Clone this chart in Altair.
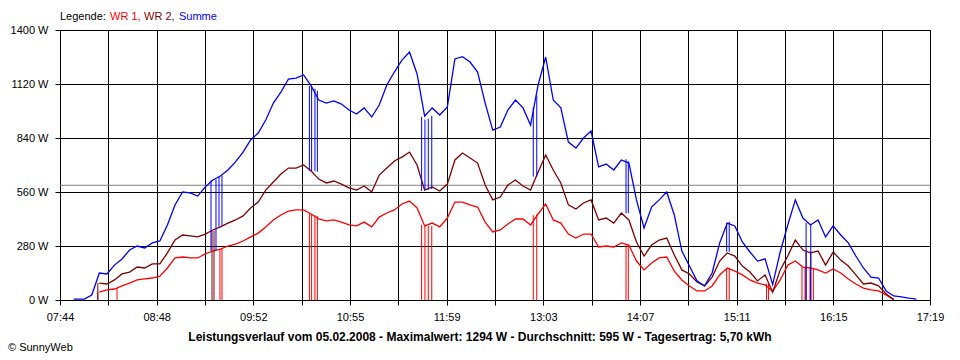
import altair as alt
import pandas as pd

# ---------------- data ----------------
times = ["07:53", "07:55", "08:00", "08:05"] + [
    f"{h:02d}:{m:02d}" for h in range(8, 18) for m in range(0, 60, 5)
    if (h * 60 + m) >= 8 * 60 + 10 and (h * 60 + m) <= 17 * 60 + 10
]

summe = [5, 5, 5, 26,
         140, 135, 181, 213, 259, 280, 270, 296, 306, 389,
         493, 560, 555, 539, 586, 622, 643, 674, 716, 767, 830, 866,
         933, 1021, 1078, 1146, 1151, 1167, 1110, 1037, 1021, 1032, 1016, 985,
         964, 996, 949, 1011, 1115, 1182, 1244, 1286, 1172, 954, 996, 959,
         1001, 1250, 1262, 1234, 1182, 1021, 881, 897, 985, 1037, 996, 907,
         1115, 1260, 1037, 996, 819, 788, 840, 876, 690, 705, 674, 726,
         710, 519, 373, 482, 519, 560, 441, 254, 176, 99, 73, 140,
         296, 399, 384, 301, 249, 202, 213, 80, 249, 389, 519, 425,
         389, 415, 327, 384, 337, 296, 228, 166, 119, 114, 47, 21,
         16, 10, 5]

wr2 = [None, None, None, None,
       88, 83, 104, 135, 145, 171, 166, 187, 187, 244,
       311, 337, 332, 327, 342, 363, 379, 399, 415, 436, 477, 508,
       570, 612, 653, 684, 684, 700, 669, 627, 607, 617, 601, 581,
       570, 591, 560, 648, 684, 721, 741, 767, 700, 570, 586, 565,
       601, 726, 762, 736, 710, 596, 519, 534, 596, 622, 591, 570,
       664, 752, 674, 607, 493, 472, 503, 519, 415, 425, 399, 451,
       415, 301, 228, 285, 311, 321, 233, 156, 135, 93, 73, 119,
       202, 244, 228, 176, 145, 99, 130, 40, 156, 228, 311, 259,
       244, 254, 181, 249, 207, 176, 130, 83, 88, 73, 31, 3,
       None, None, None]

wr1 = [None, None, None, None,
       41, 52, 57, 73, 88, 104, 109, 114, 124, 166,
       218, 223, 218, 218, 239, 254, 264, 280, 290, 306, 327, 347,
       379, 415, 441, 461, 467, 467, 446, 420, 410, 415, 404, 389,
       384, 404, 379, 430, 451, 467, 498, 513, 477, 384, 399, 379,
       425, 508, 508, 493, 482, 404, 353, 363, 394, 420, 420, 389,
       446, 498, 415, 399, 342, 321, 342, 342, 275, 280, 275, 296,
       285, 202, 156, 192, 218, 223, 150, 104, 73, 47, 47, 73,
       130, 166, 150, 130, 104, 88, 78, 45, 104, 181, 202, 171,
       166, 156, 140, 161, 140, 109, 83, 62, 52, 47, 26, 2,
       None, None, None]

# short drop-outs (vertical strokes): series, time, value before, value during
drop_series = (["WR 1", "WR 2", "WR 1"]
               + ["WR 2"] * 2 + ["Summe"] * 2 + ["WR 1"] * 2 + ["Summe"] * 2
               + ["WR 1"] * 4 + ["Summe"] * 4
               + ["WR 1"] * 4 + ["Summe"] * 4
               + ["WR 1"] * 2 + ["Summe"] * 2
               + ["WR 1"] * 2 + ["Summe"] * 2
               + ["WR 1"] * 2 + ["Summe"] * 2
               + ["WR 1"] * 2
               + ["WR 1"] * 4 + ["WR 2"] * 2 + ["Summe"] * 2)
drop_time = (["08:09:00", "08:09:00", "08:21:42"]
             + ["09:24:28", "09:25:47", "09:23:48", "09:27:06", "09:29:44", "09:31:04", "09:29:05", "09:31:04"]
             + ["10:28:50", "10:30:18", "10:32:30", "10:34:06"] * 2
             + ["11:43:00", "11:45:12", "11:47:24", "11:49:42"] * 2
             + ["12:56:48", "12:59:06"] * 2
             + ["13:58:06", "13:59:36"] * 2
             + ["15:04:36", "15:06:18"] * 2
             + ["15:31:00", "15:32:18"]
             + ["15:54:24", "15:56:24", "15:59:42", "16:01:54", "15:57:06", "16:00:12", "15:57:06", "16:00:12"])
drop_from = ([41, 88, 62]
             + [360, 360, 620, 625, 264, 266, 640, 645]
             + [446, 446, 440, 436] + [1110, 1105, 1095, 1085]
             + [390, 386, 384, 384] + [950, 935, 940, 955]
             + [440, 445] + [1000, 1060]
             + [285, 285] + [730, 720]
             + [166, 168] + [400, 405]
             + [85, 83]
             + [170, 170, 168, 166, 250, 252, 400, 395])
drop_to = ([0, 0, 0]
           + [0, 0, 255, 258, 0, 0, 380, 385]
           + [0, 0, 0, 0] + [670, 669, 668, 665]
           + [0, 0, 0, 0] + [565, 570, 572, 575]
           + [0, 0] + [640, 640]
           + [0, 0] + [450, 450]
           + [0, 0] + [250, 250]
           + [0, 0]
           + [0, 0, 0, 0, 0, 0, 0, 0])

average = [595]
series_names = ["WR 1", "WR 2", "Summe"]
series_colors = ["#ff0000", "#800000", "#0000ff"]
y_ticks = [0, 280, 560, 840, 1120, 1400]
x_labels = ["07:44", "08:48", "09:52", "10:55", "11:59", "13:03", "14:07", "15:11", "16:15", "17:19"]
title_text = ("Leistungsverlauf vom 05.02.2008 - Maximalwert: 1294 W - "
              "Durchschnitt: 595 W - Tagesertrag: 5,70 kWh")

# ---------------- build tables ----------------
def to_min(s):
    parts = [int(p) for p in s.split(":")]
    sec = parts[2] if len(parts) > 2 else 0
    return parts[0] * 60 + parts[1] + sec / 60.0

rows = []
for name, vals in zip(series_names, [wr1, wr2, summe]):
    for t, v in zip(times, vals):
        if v is not None:
            rows.append({"series": name, "t": to_min(t), "v": v})
df = pd.DataFrame(rows)

drops = pd.DataFrame({
    "series": drop_series,
    "t": [to_min(s) for s in drop_time],
    "v1": drop_from,
    "v2": drop_to,
})
avg_df = pd.DataFrame({"v": average})

x_start = to_min(x_labels[0])
x_end = to_min(x_labels[-1])
n_grid = 2 * (len(x_labels) - 1)
step = (x_end - x_start) / n_grid
x_grid = [x_start + k * step for k in range(n_grid + 1)]
label_arr = []
for k in range(n_grid + 1):
    label_arr.append(x_labels[k // 2] if k % 2 == 0 else "")
label_expr = ("[" + ",".join(f"'{s}'" for s in label_arr) + "]"
              + f"[round((datum.value - {x_start}) / {step})]")

FONT = "Liberation Sans"

x_enc = alt.X("t:Q", title=None,
              scale=alt.Scale(domain=[x_start, x_end], nice=False, zero=False),
              axis=alt.Axis(values=x_grid, labelExpr=label_expr, grid=True,
                            gridColor="black", gridOpacity=1, tickColor="black",
                            tickSize=5, labelPadding=6, domainColor="black",
                            labelFlush=False, labelOverlap=False,
                            labelFont=FONT, labelFontSize=11, labelColor="black"))
y_scale = alt.Scale(domain=[0, 1400], nice=False)
y_axis = alt.Axis(values=y_ticks, labelExpr="datum.value + ' W'", grid=True,
                  gridColor="black", gridOpacity=1, tickColor="black",
                  tickSize=5, labelPadding=7, domainColor="black",
                  labelFont=FONT, labelFontSize=11, labelColor="black")
color_scale = alt.Scale(domain=series_names, range=series_colors)

avg_rule = alt.Chart(avg_df).mark_rule(color="#808080", strokeWidth=1).encode(
    x=alt.value(0), x2=alt.value(870),
    y=alt.Y("v:Q", scale=y_scale, axis=y_axis, title=None),
)

grid_layer = alt.Chart(df).mark_point(opacity=0).encode(
    x=x_enc, y=alt.Y("v:Q", scale=y_scale, axis=y_axis, title=None))

lines = alt.Chart(df).mark_line(strokeWidth=1.3, interpolate="linear").encode(
    x=alt.X("t:Q"),
    y=alt.Y("v:Q"),
    color=alt.Color("series:N", scale=color_scale, legend=None),
    order=alt.Order("t:Q"),
)

drop_rules = alt.Chart(drops).mark_rule(strokeWidth=1).encode(
    x=alt.X("t:Q"),
    y=alt.Y("v1:Q"),
    y2="v2:Q",
    color=alt.Color("series:N", scale=color_scale, legend=None),
)

one = pd.DataFrame({"a": [0]})

def label(text, x, y, color="black", bold=False, align="left", size=11):
    return alt.Chart(one).mark_text(
        text=text, font=FONT, fontSize=size, color=color, align=align,
        baseline="middle", fontWeight="bold" if bold else "normal"
    ).encode(x=alt.value(x), y=alt.value(y))

texts = [
    label("Legende:", 0, -13),
    label("WR 1,", 50, -13, "#ff0000"),
    label("WR 2,", 84, -13, "#800000"),
    label("Summe", 119, -13, "#0000ff"),
    label(title_text, 420, 307, bold=True, align="center", size=12),
    label("\u00a9 SunnyWeb", -52, 318),
]

chart = alt.layer(grid_layer, avg_rule, lines, drop_rules, *texts).properties(
    width=870, height=270,
    padding={"left": 52, "top": 22, "right": 20, "bottom": 56},
    autosize=alt.AutoSizeParams(type="none"),
    background="white",
).configure_view(stroke="black", strokeWidth=1)

chart.save("out.html", embed_options={"renderer": "svg", "actions": False})
